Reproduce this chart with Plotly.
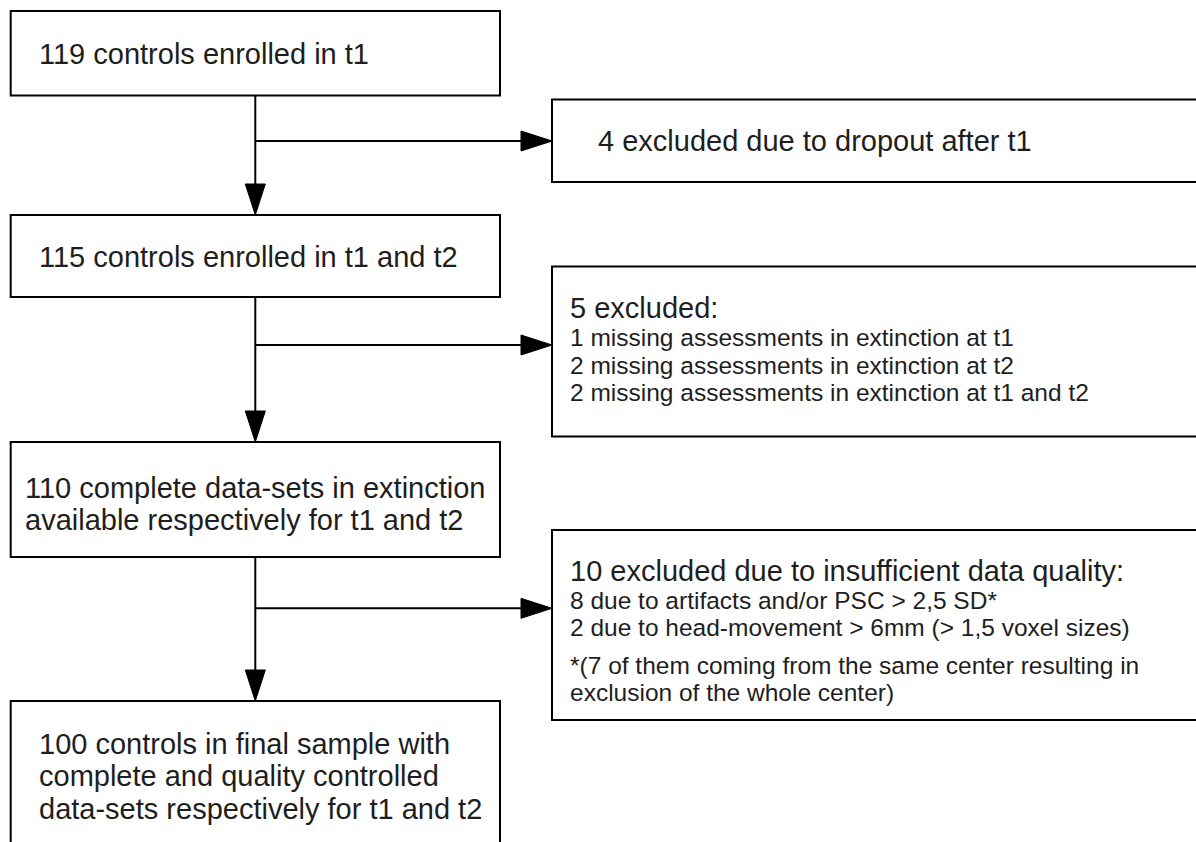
import plotly.graph_objects as go

# ---- data (counts and texts of the flow) ----
stage_counts = [119, 115, 110, 100]
stage_lines = [
    [f"{stage_counts[0]} controls enrolled in t1"],
    [f"{stage_counts[1]} controls enrolled in t1 and t2"],
    [f"{stage_counts[2]} complete data-sets in extinction",
     "available respectively for t1 and t2"],
    [f"{stage_counts[3]} controls in final sample with",
     "complete and quality controlled",
     "data-sets respectively for t1 and t2"],
]
excluded_counts = [4, 5, 10]
excluded_heads = [
    f"{excluded_counts[0]} excluded due to dropout after t1",
    f"{excluded_counts[1]} excluded:",
    f"{excluded_counts[2]} excluded due to insufficient data quality:",
]
excluded_details = [
    [],
    ["1 missing assessments in extinction at t1",
     "2 missing assessments in extinction at t2",
     "2 missing assessments in extinction at t1 and t2"],
    ["8 due to artifacts and/or PSC &gt; 2,5 SD*",
     "2 due to head-movement &gt; 6mm (&gt; 1,5 voxel sizes)"],
]
excluded_notes = [
    [], [],
    ["*(7 of them coming from the same center resulting in",
     "exclusion of the whole center)"],
]

# ---- layout geometry (pixels) ----
W, H = 1196, 842
LX0, LX1 = 10.7, 500
TRUNK = 255.3
left_boxes = [(11, 95.5), (215, 297), (442, 557), (701, 860)]
left_text_x = [37, 37, 23, 37]
left_text_y = [[53.7], [256.5], [488.3, 520.2], [743.5, 776, 808.5]]

RX0, RX1 = 552, 1230
right_boxes = [(99.5, 182), (266.5, 436.5), (530, 720)]
branch_y = [141, 345, 608.3]
right_head_x = [595.6, 568.4, 568.4]
right_head_y = [140.7, 307.6, 570.7]
right_detail_y = [[], [337.3, 365, 392.3], [600, 627.3]]
right_note_y = [[], [], [665.7, 692.7]]

BIG, SMALL = 29, 24.5
FONT = "Liberation Sans, Arial, sans-serif"
TXT = "#1e1e1e"
LINE = "#000000"
LW = 2
HEAD_L, HEAD_W = 31, 20

fig = go.Figure()
shapes = []
ann = []

def rect(x0, y0, x1, y1):
    shapes.append(dict(type="rect", xref="x", yref="y", x0=x0, x1=x1, y0=y0, y1=y1,
                       line=dict(color=LINE, width=LW), fillcolor="rgba(0,0,0,0)", layer="above"))

def seg(x0, y0, x1, y1):
    shapes.append(dict(type="line", xref="x", yref="y", x0=x0, x1=x1, y0=y0, y1=y1,
                       line=dict(color=LINE, width=LW), layer="above"))

def tri(path):
    shapes.append(dict(type="path", xref="x", yref="y", path=path,
                       fillcolor=LINE, line=dict(color=LINE, width=1), layer="above"))

def text(x, y, s, size):
    ann.append(dict(x=x, y=y, xref="x", yref="y", text=s, showarrow=False,
                    xanchor="left", yanchor="middle", align="left",
                    font=dict(family=FONT, size=size, color=TXT)))

# left boxes + text
for (y0, y1), tx, tys, lines in zip(left_boxes, left_text_x, left_text_y, stage_lines):
    rect(LX0, y0, LX1, y1)
    for ty, s in zip(tys, lines):
        text(tx, ty, s, BIG)

# vertical arrows between left boxes
for i in range(len(left_boxes) - 1):
    ya = left_boxes[i][1]
    yb = left_boxes[i + 1][0]
    seg(TRUNK, ya, TRUNK, yb - HEAD_L)
    tri(f"M {TRUNK - HEAD_W/2} {yb - HEAD_L} L {TRUNK + HEAD_W/2} {yb - HEAD_L} L {TRUNK} {yb} Z")

# right boxes, branches, text
for i, ((y0, y1), by) in enumerate(zip(right_boxes, branch_y)):
    rect(RX0, y0, RX1, y1)
    seg(TRUNK, by, RX0 - HEAD_L, by)
    tri(f"M {RX0 - HEAD_L} {by - HEAD_W/2} L {RX0 - HEAD_L} {by + HEAD_W/2} L {RX0} {by} Z")
    text(right_head_x[i], right_head_y[i], excluded_heads[i], BIG)
    for ty, s in zip(right_detail_y[i], excluded_details[i]):
        text(right_head_x[i], ty, s, SMALL)
    for ty, s in zip(right_note_y[i], excluded_notes[i]):
        text(right_head_x[i], ty, s, SMALL)

fig.update_layout(
    width=W, height=H,
    margin=dict(l=0, r=0, t=0, b=0),
    paper_bgcolor="white", plot_bgcolor="white",
    xaxis=dict(range=[0, W], visible=False, fixedrange=True),
    yaxis=dict(range=[H, 0], visible=False, fixedrange=True),
    shapes=shapes, annotations=ann, showlegend=False,
)

fig.write_html(
    "out.html",
    config={"displayModeBar": False},
    post_script="document.body.style.margin='0';document.body.style.overflow='hidden';",
)
